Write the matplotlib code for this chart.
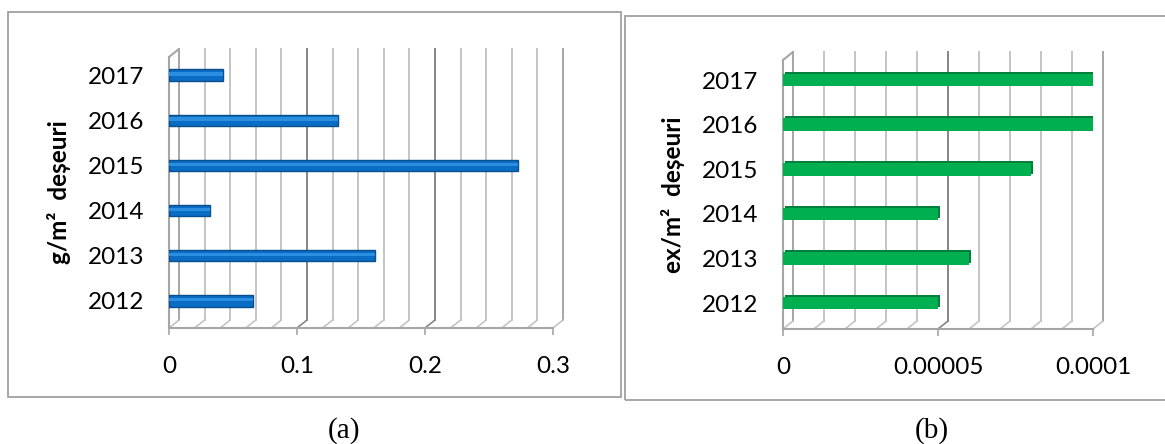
import matplotlib
matplotlib.use("Agg")
import matplotlib.pyplot as plt
from matplotlib.transforms import ScaledTranslation
from matplotlib.patches import Rectangle, ConnectionPatch

plt.rcParams['font.family'] = ['Lato', 'DejaVu Sans']

# date
years = ['2012', '2013', '2014', '2015', '2016', '2017']
grame = [0.066, 0.161, 0.032, 0.273, 0.132, 0.042]          # g/m2
exemplare = [0.00005, 0.00006, 0.00005, 0.00008, 0.0001, 0.0001]  # ex/m2

ticks_a = [0, 0.1, 0.2, 0.3]
labels_a = ['0', '0.1', '0.2', '0.3']
minor_a = [i * 0.02 for i in range(16)]

ticks_b = [0, 0.00005, 0.0001]
labels_b = ['0', '0.00005', '0.0001']
minor_b = [i * 0.00001 for i in range(11)]

W, H = 1165, 444
fig = plt.figure(figsize=(W / 100, H / 100), dpi=100)

GRID = '#c4c4c4'
MAJOR = '#858585'
WALL = '#a6a6a6'


def px(x0, y0, x1, y1):
    # pixel box (y downwards) -> figure fractions
    return [x0 / W, 1 - y1 / H, (x1 - x0) / W, (y1 - y0) / H]


def panel(rect, vals, xmax, ticks, labels, minor, majors, ylim, bh,
          col, dark, light, ylabel, cylinder):
    ax = fig.add_axes(rect)
    ax.set_xlim(0, xmax)
    ax.set_ylim(*ylim)
    dx, dy = 10, 8
    back = ax.transData + ScaledTranslation(dx / 100, dy / 100, fig.dpi_scale_trans)
    lo, hi = ylim

    # perete din spate + podea
    for v in minor:
        c = MAJOR if any(abs(v - m) < xmax * 1e-6 for m in majors[1:-1]) else GRID
        if abs(v) < xmax * 1e-6 or abs(v - xmax) < xmax * 1e-6:
            c = WALL
        ax.plot([v, v], [lo, hi], color=c, lw=1.4, transform=back, clip_on=False, zorder=1)
        cp = ConnectionPatch((v, lo), (v, lo), coordsA=ax.transData, coordsB=back,
                             color=c if c != WALL else GRID, lw=1.2, zorder=1)
        cp.set_clip_on(False)
        ax.add_artist(cp)
    # colt stanga sus
    cp = ConnectionPatch((0, hi), (0, hi), coordsA=ax.transData, coordsB=back,
                         color=WALL, lw=1.5, zorder=1)
    cp.set_clip_on(False)
    ax.add_artist(cp)

    ypos = list(range(len(vals)))
    if cylinder:
        ax.barh(ypos, vals, height=bh, color=col, edgecolor=dark, lw=1.0, zorder=3)
        ax.barh([y + bh * 0.1 for y in ypos], vals, height=bh * 0.3,
                color=light, lw=0, zorder=4)
    else:
        sh = ax.transData + ScaledTranslation(2 / 100, 2 / 100, fig.dpi_scale_trans)
        ax.barh(ypos, vals, height=bh, color=dark, transform=sh, zorder=2)
        ax.barh(ypos, vals, height=bh, color=col, zorder=3)

    for s in ['top', 'right']:
        ax.spines[s].set_visible(False)
    ax.spines['left'].set_color(WALL)
    ax.spines['left'].set_linewidth(1.5)
    ax.spines['bottom'].set_color(WALL)
    ax.spines['bottom'].set_linewidth(1.5)
    ax.set_xticks(ticks)
    ax.set_xticklabels(labels)
    ax.set_yticks(ypos)
    ax.set_yticklabels(years)
    ax.tick_params(axis='x', length=5, width=1.2, color=WALL, pad=15, labelsize=17.5)
    ax.tick_params(axis='y', length=0, pad=18, labelsize=17.5)
    ax.set_ylabel(ylabel, fontsize=17.5, fontweight='bold', labelpad=12)
    ax.patch.set_visible(False)
    return ax


ax1 = panel(px(169, 57, 553, 328), grame, 0.3, ticks_a, labels_a, minor_a,
            ticks_a, (-0.6, 5.4), 0.25, '#0a6cc4', '#0a4f8e', '#2c8ee0',
            'g/m²  deșeuri', True)
ax2 = panel(px(783, 60, 1093, 329), exemplare, 0.0001, ticks_b, labels_b, minor_b,
            ticks_b, (-0.58, 5.45), 0.28, '#00b050', '#00803a', None,
            'ex/m²  deșeuri', False)

# chenare
fig.patches.append(Rectangle((8 / W, 1 - 397 / H), 613 / W, 385 / H, transform=fig.transFigure,
                             fill=False, edgecolor='#a0a0a0', lw=1.3))
fig.patches.append(Rectangle((625 / W, 1 - 400 / H), 545 / W, 384 / H, transform=fig.transFigure,
                             fill=False, edgecolor='#a0a0a0', lw=1.3))

fig.text(344 / W, 1 - 431 / H, '(a)', ha='center', va='center', fontsize=21,
         family='Liberation Serif')
fig.text(932 / W, 1 - 431 / H, '(b)', ha='center', va='center', fontsize=21,
         family='Liberation Serif')

fig.savefig('out.png', dpi=100)
